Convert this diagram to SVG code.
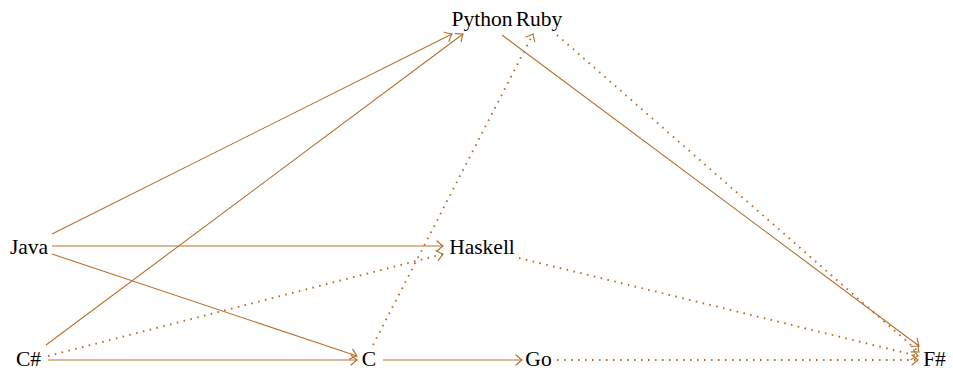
<svg xmlns="http://www.w3.org/2000/svg" width="953" height="377" viewBox="0 0 953 377">
<style>
text{font-family:"Liberation Serif","Times New Roman",serif;font-size:21.5px;fill:#000}
.e{fill:none;stroke:#b5712d;stroke-width:1.1}
.s{marker-end:url(#ar)}
.d{stroke-width:1.9;stroke-dasharray:1.6 5.4;marker-end:url(#ar)}
</style>
<defs>
<marker id="ar" markerUnits="userSpaceOnUse" markerWidth="14" markerHeight="14" viewBox="-8 -7 10 14" refX="0" refY="0" orient="auto" overflow="visible">
<path d="M-6,-5 Q-1.5,-1 0,0 Q-1.5,1 -6,5" fill="none" stroke="#b5712d" stroke-width="1.2" stroke-linecap="round"/>
</marker>
</defs>
<rect width="953" height="377" fill="#fff"/>
<g id="edges">
<path class="e s" d="M52,234 L452,34"/>
<path class="e s" d="M52,246 L443,246"/>
<path class="e s" d="M52,254 L357,356"/>
<path class="e s" d="M46,345 L463,34"/>
<path class="e d" d="M48,356 L443,254"/>
<path class="e s" d="M48,360 L357,360"/>
<path class="e d" d="M373,345 L533,34"/>
<path class="e s" d="M383,360 L522,360"/>
<path class="e s" d="M502,35 L919,346"/>
<path class="e d" d="M557,35 L919,352"/>
<path class="e d" d="M519,258 L918,356"/>
<path class="e d" d="M557,360 L918,360"/>
</g>
<g id="python"><text x="482" y="26" text-anchor="middle">Python</text></g>
<g id="ruby"><text x="539" y="26" text-anchor="middle">Ruby</text></g>
<g id="java"><text x="29" y="254" text-anchor="middle">Java</text></g>
<g id="haskell"><text x="482" y="254" text-anchor="middle">Haskell</text></g>
<g id="csharp"><text x="28.5" y="366" text-anchor="middle">C#</text></g>
<g id="c"><text x="369" y="366" text-anchor="middle">C</text></g>
<g id="go"><text x="538.5" y="366" text-anchor="middle">Go</text></g>
<g id="fsharp"><text x="934.5" y="366" text-anchor="middle">F#</text></g>
</svg>
